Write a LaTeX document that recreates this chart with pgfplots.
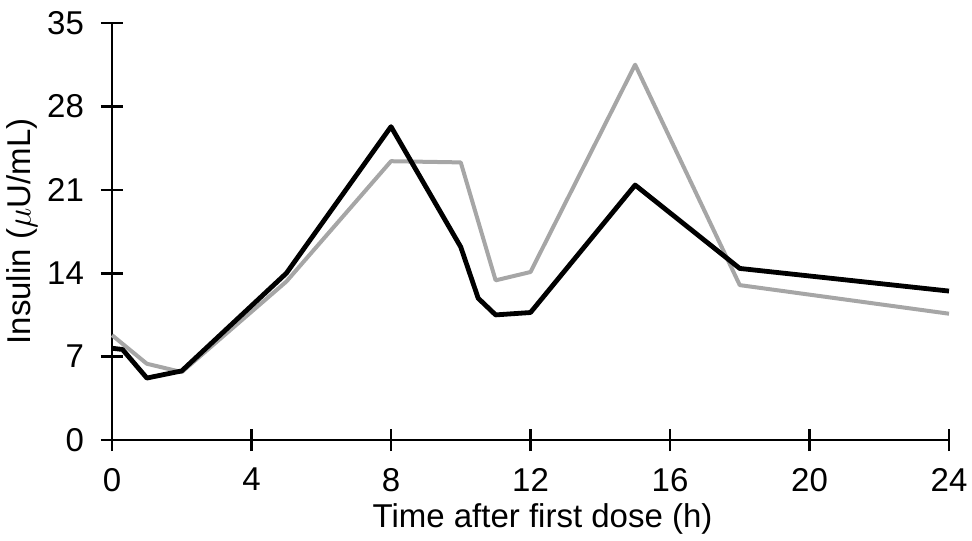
\documentclass[border=0pt]{standalone}
\usepackage{fontspec}
\setmainfont{Liberation Sans}
\usepackage{pgfplots}
\pgfplotsset{compat=1.18}
\begin{document}
\begin{tikzpicture}
\useasboundingbox (-56pt,-50pt) rectangle (430pt,220pt);
\begin{axis}[
  at={(0pt,0pt)}, anchor=south west,
  scale only axis, width=418.5pt, height=208.5pt,
  xmin=0, xmax=24, ymin=0, ymax=35,
  axis lines=left, axis line style={line width=1.3pt, -},
  xtick={0,4,8,12,16,20,24},
  ytick={0,7,14,21,28,35},
  tick align=center, major tick length=11pt,
  tick style={line width=1.3pt, black},
  /pgf/number format/assume math mode=true,
  tick label style={font=\fontsize{16.5}{19}\selectfont},
  xticklabel style={yshift=-5pt},
  yticklabel style={xshift=-5pt},
  xlabel={Time after first dose (h)},
  ylabel={Insulin ($\mu$U/mL)},
  label style={font=\fontsize{16.5}{19}\selectfont},
  xlabel style={yshift=1pt, xshift=6pt},
  ylabel style={yshift=-2pt},
  clip=false,
]
\addplot[color=black!35, line width=2pt, line join=round] coordinates {
 (0,8.8) (1,6.4) (2,5.7) (5,13.3) (8,23.4) (10,23.3) (11,13.4) (12,14.1) (15,31.5) (18,13.0) (24,10.6)
};
\addplot[color=black, line width=2.4pt, line join=round] coordinates {
 (0,7.7) (0.3,7.6) (1,5.2) (2,5.8) (5,14.0) (8,26.3) (10,16.2) (10.5,11.9) (11,10.5) (12,10.7) (15,21.4) (18,14.4) (24,12.5)
};
\end{axis}
\end{tikzpicture}
\end{document}
